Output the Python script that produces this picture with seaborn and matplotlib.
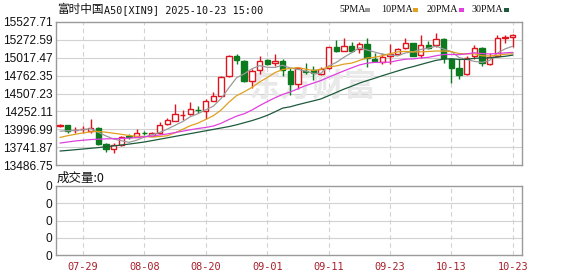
import matplotlib
matplotlib.use("Agg")
import matplotlib.pyplot as plt
import seaborn as sns
import pandas as pd
import numpy as np
from matplotlib.patches import Rectangle

# ---------------- data ----------------
dates = ["07-24", "07-25", "07-28", "07-29", "07-30", "07-31", "08-01", "08-04", "08-05", "08-06",
         "08-07", "08-08", "08-11", "08-12", "08-13", "08-14", "08-15", "08-18", "08-19", "08-20",
         "08-21", "08-22", "08-25", "08-26", "08-27", "08-28", "08-29", "09-01", "09-02", "09-03",
         "09-04", "09-05", "09-08", "09-09", "09-10", "09-11", "09-12", "09-15", "09-16", "09-17",
         "09-18", "09-19", "09-22", "09-23", "09-24", "09-25", "09-26", "09-29", "09-30", "10-09",
         "10-10", "10-13", "10-14", "10-15", "10-16", "10-17", "10-20", "10-21", "10-22", "10-23"]

opens = [14040, 14053, 13980, 13995, 13976, 14011, 13787, 13711, 13772, 13895,
         13891, 13945, 13905, 13939, 14068, 14119, 14195, 14210, 14275, 14262,
         14405, 14476, 14757, 15042, 14975, 14690, 14843, 14985, 14940, 14966,
         14833, 14643, 14825, 14843, 14786, 14867, 15175, 15118, 15185, 15138,
         15214, 14995, 14961, 15042, 15071, 15152, 15224, 15057, 15199, 15199,
         15285, 14995, 14867, 14781, 15047, 15161, 14924, 15042, 15305, 15309]
highs = [14075, 14062, 14025, 14040, 14148, 14033, 13805, 13797, 13905, 13925,
         14005, 13965, 13960, 14105, 14162, 14357, 14272, 14390, 14325, 14430,
         14524, 14760, 15057, 15071, 14990, 14860, 15042, 15000, 15066, 15000,
         14867, 14880, 14938, 14900, 14880, 15175, 15270, 15295, 15246, 15240,
         15295, 15081, 15081, 15214, 15152, 15295, 15235, 15342, 15261, 15366,
         15295, 15010, 14995, 15042, 15199, 15175, 15081, 15342, 15342, 15356]
lows = [14025, 13939, 13939, 13948, 13939, 13768, 13677, 13662, 13758, 13860,
        13880, 13910, 13900, 13930, 14060, 14110, 14129, 14200, 14225, 14139,
        14395, 14470, 14747, 14928, 14676, 14582, 14786, 14910, 14900, 14757,
        14486, 14567, 14790, 14700, 14770, 14857, 15100, 15110, 15095, 15090,
        14890, 14950, 14928, 14928, 15060, 15140, 15040, 15010, 15138, 15175,
        14947, 14661, 14714, 14771, 14995, 14904, 14910, 15030, 15224, 15175]
closes = [14055, 13972, 13990, 14005, 14011, 13787, 13711, 13772, 13891, 13888,
          13939, 13938, 13940, 14053, 14129, 14210, 14205, 14286, 14268, 14405,
          14476, 14747, 15042, 14985, 14690, 14833, 14975, 14924, 14975, 14843,
          14643, 14867, 14815, 14796, 14857, 15167, 15118, 15185, 15118, 15214,
          15010, 14966, 15032, 15071, 15138, 15224, 15047, 15199, 15161, 15285,
          15010, 14875, 14771, 15018, 15152, 14938, 15024, 15295, 15312, 15342]
volumes = [0] * 60

ma5_head = [13970, 13975, 13980, 13990]
ma10_head = [13880, 13905, 13925, 13945, 13960, 13966, 13955, 13940, 13925]
ma20_head = [13800, 13815, 13830, 13840, 13850, 13855, 13860, 13862, 13865, 13870,
             13880, 13890, 13900, 13915, 13930, 13950, 13970, 13990, 14008]
ma30_head = [13686, 13695, 13705, 13715, 13725, 13735, 13748, 13760, 13772, 13785,
             13800, 13815, 13835, 13855, 13875, 13895, 13915, 13935, 13955, 13975,
             13995, 14015, 14035, 14060, 14090, 14120, 14155, 14195, 14245]

y_ticks = [13486.75, 13741.87, 13996.99, 14252.11, 14507.23, 14762.35, 15017.47, 15272.59, 15527.71]
x_tick_labels = ["07-29", "08-08", "08-20", "09-01", "09-11", "09-23", "10-13", "10-23"]
ma_names = ["5PMA", "10PMA", "20PMA", "30PMA"]
ma_colors = ["#9a9a9a", "#e0a020", "#e040e0", "#1e5a3c"]
title_cn = "富时中国"
title_rest = "A50[XIN9] 2025-10-23 15:00"

# ---------------- figure ----------------
sns.set_style("white")
plt.rcParams['font.family'] = ['Liberation Sans', 'Noto Sans CJK SC', 'DejaVu Sans']

W, H = 578, 276
fig = plt.figure(figsize=(W / 100, H / 100), dpi=100)


def fx(px):
    return px / W


def fy(py):
    return 1 - py / H


ax = fig.add_axes([fx(56), fy(165), fx(522) - fx(56), fy(22) - fy(165)])
axv = fig.add_axes([fx(56), fy(255), fx(522) - fx(56), fy(186) - fy(255)])

df = pd.DataFrame({"date": dates, "open": opens, "high": highs, "low": lows, "close": closes,
                   "volume": volumes})
df["i"] = np.arange(len(df))


def moving_avg(n, head):
    s = df["close"].rolling(n).mean().to_numpy().astype(float)
    s[:len(head)] = head
    return s


heads = [ma5_head, ma10_head, ma20_head, ma30_head]
for name, n, head in zip(ma_names, [5, 10, 20, 30], heads):
    df[name] = moving_avg(n, head)

tick_pos = [dates.index(t) for t in x_tick_labels]
grid_c = "#d2d2d2"
spine_c = "#9a9a9a"

# grids
for a in (ax, axv):
    for p in tick_pos:
        a.axvline(p, color=grid_c, lw=0.8, ls=(0, (4, 3)), zorder=0.5)

for yv in y_ticks[1:-1]:
    ax.axhline(yv, color=grid_c, lw=0.8, zorder=0.5)

# watermark
ax.text(0.55, 0.54, "东方财富", transform=ax.transAxes, fontsize=23, fontweight="bold",
        color="#e9e9e9", ha="center", va="center", zorder=0.6, family=["Noto Sans CJK SC"])

# candles
red = "#e0141e"
green = "#0c7a1e"
bw = 0.7
for _, r in df.iterrows():
    x = r["i"]
    o, c, h, l = r["open"], r["close"], r["high"], r["low"]
    up = c >= o
    col = red if up else green
    top, bot = max(o, c), min(o, c)
    ax.vlines(x, bot, l, color=col, lw=1.0, zorder=2)
    ax.vlines(x, top, h, color=col, lw=1.0, zorder=2)
    hgt = max(top - bot, 4)
    ax.add_patch(Rectangle((x - bw / 2, bot), bw, hgt, facecolor="white" if up else green,
                           edgecolor=col, lw=1.0, zorder=3))

# moving average lines
for name, col in zip(ma_names, ma_colors):
    sns.lineplot(data=df, x="i", y=name, color=col, lw=0.9, ax=ax, zorder=4, legend=False)

ax.set_xlim(-0.52, 60.2)
ax.set_ylim(y_ticks[0], y_ticks[-1])
ax.set_yticks(y_ticks)
ax.set_yticklabels([f"{v:.2f}" for v in y_ticks])
ax.set_xticks([])
ax.set_xlabel("")
ax.set_ylabel("")
ax.tick_params(axis="y", length=0, pad=2.5, labelsize=8.6, labelcolor="#111111")

# volume panel
sns.barplot(x=df["i"], y=df["volume"], ax=axv, color=red, native_scale=True)
axv.set_xlim(-0.52, 60.2)
axv.set_ylim(0, 4)
axv.set_yticks([0, 1, 2, 3, 4])
axv.set_yticklabels(["0"] * 5)
for yv in [1, 2, 3]:
    axv.axhline(yv, color=grid_c, lw=0.8, zorder=0.5)
axv.set_xticks(tick_pos)
axv.set_xticklabels(x_tick_labels, family=["DejaVu Sans Mono"], fontsize=7.4, color="#a8202a")
axv.tick_params(axis="x", length=0, pad=5)
axv.tick_params(axis="y", length=0, pad=2.5, labelsize=8.6, labelcolor="#111111")
axv.set_xlabel("")
axv.set_ylabel("")

for a in (ax, axv):
    for s in a.spines.values():
        s.set_color(spine_c)
        s.set_linewidth(1.0)
        s.set_visible(True)

# title and legend
fig.text(fx(57), fy(10), title_cn, fontsize=8.4, va="center", ha="left",
         family=["Noto Sans CJK SC"], color="#111111")
fig.text(fx(104), fy(10), title_rest, fontsize=7.3, va="center", ha="left",
         family=["DejaVu Sans Mono"], color="#111111")

leg_x = [339, 381, 427, 472]
sq_x = [365, 413, 459, 504]
for name, col, lx, sx in zip(ma_names, ma_colors, leg_x, sq_x):
    fig.text(fx(lx), fy(10), name, fontsize=7.2, va="center", ha="left",
             family=["Liberation Serif"], color="#111111")
    fig.patches.append(Rectangle((fx(sx), fy(11.5)), 5 / W, 3 / H, transform=fig.transFigure,
                                 facecolor=col, edgecolor="none", figure=fig))

fig.text(fx(57), fy(178), "成交量:0", fontsize=9, va="center", ha="left",
         family=["Noto Sans CJK SC"], color="#111111")

fig.savefig("out.png", dpi=100, facecolor="white")
